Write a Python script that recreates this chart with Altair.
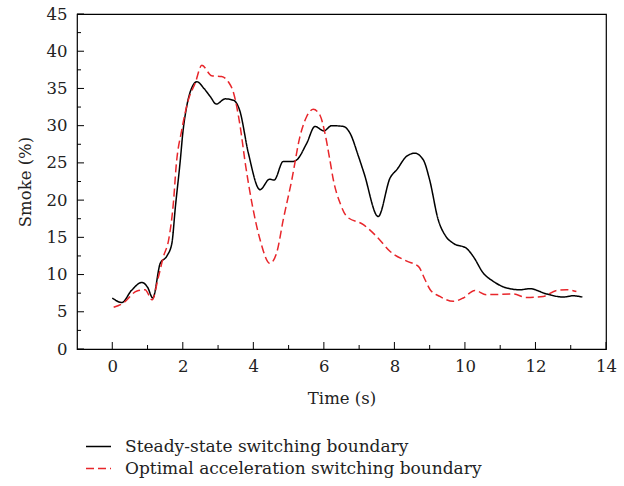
import altair as alt
import pandas as pd

# Steady-state switching boundary (black solid)
steady_t = [0.0, 0.27, 0.55, 0.84, 1.0, 1.15, 1.36, 1.55, 1.69, 1.79, 1.93, 2.0, 2.10, 2.23, 2.40,
            2.60, 2.78, 2.95, 3.2, 3.44, 3.61, 3.86, 4.19, 4.46, 4.59, 4.85, 5.13, 5.23, 5.51, 5.75,
            6.0, 6.22, 6.55, 6.74, 6.98, 7.14, 7.54, 7.88, 8.07, 8.35, 8.58, 8.82, 9.0, 9.24,
            9.45, 9.67, 10.05, 10.24, 10.52, 10.8, 11.18, 11.56, 11.84, 12.31, 12.79, 13.07, 13.33]
steady_v = [6.85, 6.25, 7.9, 8.94, 8.3, 6.85, 11.5, 12.5, 14.2, 19.1, 25.4, 29.0, 32.3, 34.8, 35.9,
            35.0, 33.9, 32.9, 33.6, 33.4, 32.1, 26.3, 21.4, 22.8, 22.7, 25.2, 25.2, 25.4, 27.6, 29.9,
            29.3, 30.0, 29.9, 29.0, 25.9, 23.6, 17.8, 23.0, 24.1, 25.9, 26.3, 25.4, 22.7, 17.4,
            15.2, 14.2, 13.5, 12.4, 10.2, 9.1, 8.2, 7.96, 8.1, 7.4, 6.98, 7.15, 6.98]

# Optimal acceleration switching boundary (red dashed)
optimal_t = [0.04, 0.32, 0.7, 0.93, 1.13, 1.31, 1.45, 1.6, 1.74, 1.81, 1.97, 2.16, 2.35, 2.54,
             2.82, 3.1, 3.29, 3.44, 3.63, 3.77, 3.96, 4.19, 4.47, 4.66, 4.85, 5.09, 5.32, 5.51,
             5.7, 5.89, 6.03, 6.17, 6.27, 6.46, 6.65, 7.12, 7.5, 7.88, 8.35, 8.68, 8.87, 9.01,
             9.29, 9.67, 9.95, 10.28, 10.61, 11.37, 11.74, 12.22, 12.6, 12.88, 13.16]
optimal_v = [5.6, 6.2, 7.8, 7.96, 6.6, 9.7, 12.4, 14.7, 20.0, 24.5, 29.4, 33.5, 35.7, 38.1,
             36.7, 36.6, 35.9, 34.4, 29.8, 25.0, 19.6, 14.7, 11.5, 12.9, 17.4, 22.7, 28.5, 31.2,
             32.2, 31.4, 29.0, 25.4, 22.7, 19.6, 17.8, 16.7, 15.1, 13.1, 11.8, 11.1, 9.3, 8.0,
             7.06, 6.4, 6.85, 7.87, 7.3, 7.38, 6.93, 7.06, 7.87, 7.96, 7.73]

series_names = ["Steady-state switching boundary", "Optimal acceleration switching boundary"]
series_colors = ["#000000", "#e8262b"]

x_major = [0, 2, 4, 6, 8, 10, 12, 14]
x_minor = [1, 3, 5, 7, 9, 11, 13]
y_major = [0, 5, 10, 15, 20, 25, 30, 35, 40, 45]
y_minor = [2.5, 7.5, 12.5, 17.5, 22.5, 27.5, 32.5, 37.5, 42.5]

W, H = 529, 335
FONT = "DejaVu Serif"
FS = 16.5

df = pd.concat([
    pd.DataFrame({"t": steady_t, "v": steady_v, "series": series_names[0], "order": range(len(steady_t))}),
    pd.DataFrame({"t": optimal_t, "v": optimal_v, "series": series_names[1], "order": range(len(optimal_t))}),
])

xscale = alt.Scale(domain=[-1, 14], nice=False, zero=False)
yscale = alt.Scale(domain=[0, 45], nice=False)

x_axis = alt.Axis(values=x_major, ticks=False, domain=False, grid=False,
                  labelPadding=9, titlePadding=16, labelOverlap=False, labelFlush=False)
y_axis = alt.Axis(values=y_major, ticks=False, domain=False, grid=False,
                  labelPadding=10, titlePadding=13, labelOverlap=False, labelFlush=False)

legend = alt.Legend(title=None, orient="none", legendX=8, legendY=419,
                    symbolType="stroke", symbolSize=625, symbolStrokeWidth=1.5,
                    labelFont=FONT, labelFontSize=17, labelColor="#222", labelLimit=0,
                    labelOffset=13, rowPadding=-3)

lines = alt.Chart(df).mark_line(interpolate="monotone", strokeWidth=1.5).encode(
    x=alt.X("t:Q", scale=xscale, title="Time (s)", axis=x_axis),
    y=alt.Y("v:Q", scale=yscale, title="Smoke (%)", axis=y_axis),
    color=alt.Color("series:N", scale=alt.Scale(domain=series_names, range=series_colors), legend=legend),
    strokeDash=alt.StrokeDash("series:N", scale=alt.Scale(domain=series_names, range=[[1, 0], [8, 4]]),
                              legend=legend),
    order="order:Q",
)

xmaj = alt.Chart(pd.DataFrame({"x": x_major})).mark_rule(color="black", strokeWidth=1).encode(
    x=alt.X("x:Q", scale=xscale, title="Time (s)", axis=x_axis), y=alt.value(H), y2=alt.value(H - 7))
xmin = alt.Chart(pd.DataFrame({"x": x_minor})).mark_rule(color="black", strokeWidth=1).encode(
    x=alt.X("x:Q", scale=xscale, title="Time (s)", axis=x_axis), y=alt.value(H), y2=alt.value(H - 4))
ymaj = alt.Chart(pd.DataFrame({"y": y_major})).mark_rule(color="black", strokeWidth=1).encode(
    y=alt.Y("y:Q", scale=yscale, title="Smoke (%)", axis=y_axis), x=alt.value(0), x2=alt.value(7))
ymin = alt.Chart(pd.DataFrame({"y": y_minor})).mark_rule(color="black", strokeWidth=1).encode(
    y=alt.Y("y:Q", scale=yscale, title="Smoke (%)", axis=y_axis), x=alt.value(0), x2=alt.value(4))

chart = alt.layer(lines, xmaj, xmin, ymaj, ymin).properties(
    width=W, height=H,
    background="white",
    autosize=alt.AutoSizeParams(type="none"),
    padding={"left": 77, "top": 14, "right": 18, "bottom": 137},
).configure_view(stroke="black", strokeWidth=1.2).configure_axis(
    labelFont=FONT, labelFontSize=FS, labelColor="#222",
    titleFont=FONT, titleFontSize=FS, titleColor="#222", titleFontWeight="normal",
)

chart.save("out.html", embed_options={"renderer": "svg", "actions": False})
